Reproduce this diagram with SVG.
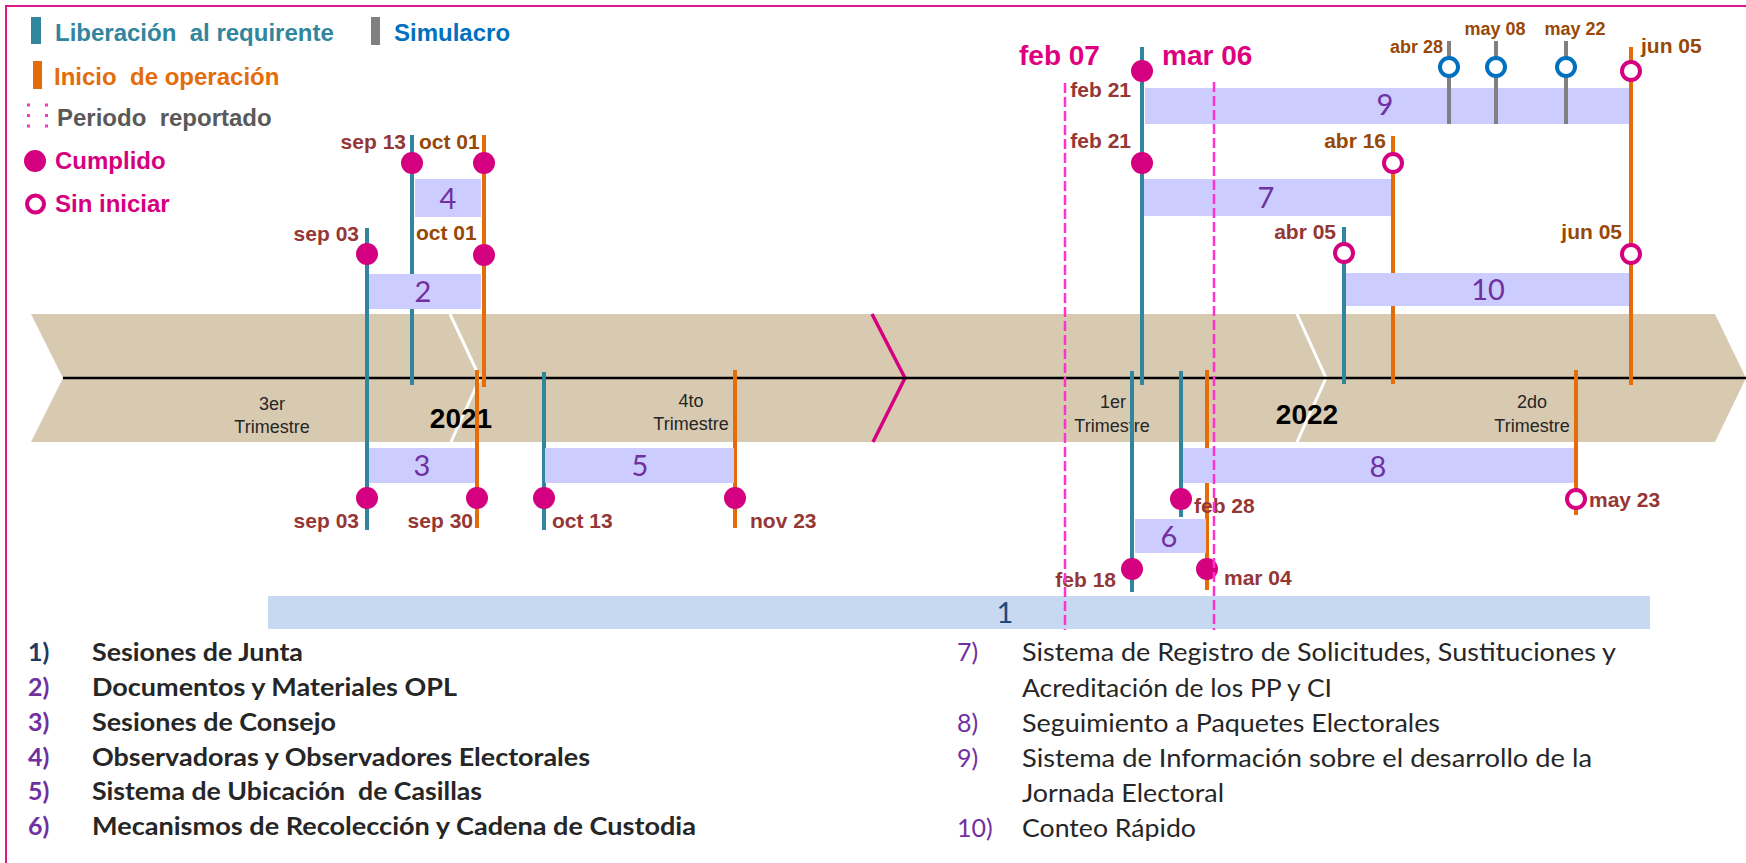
<svg xmlns="http://www.w3.org/2000/svg" width="1746" height="863" viewBox="0 0 1746 863">
<style>
.t{font-family:"Liberation Sans",Arial,sans-serif}
.b{font-weight:bold}
.lg{font-family:"Liberation Sans",Arial,sans-serif;font-weight:bold;font-size:24px;white-space:pre}
.q{font-family:"Liberation Sans",Arial,sans-serif;font-size:18px;fill:#262626;text-anchor:middle}
.yr{font-family:"Liberation Sans",Arial,sans-serif;font-size:28px;font-weight:bold;fill:#000;text-anchor:middle}
.dr{font-family:"Liberation Sans",Arial,sans-serif;font-weight:bold;font-size:21px;fill:#953735}
.do{font-family:"Liberation Sans",Arial,sans-serif;font-weight:bold;font-size:21px;fill:#984807}
.sm{font-size:18px}
.e{text-anchor:end}
.m{text-anchor:middle}
.bar{fill:#CCCCFF}
.num{font-family:Lato,"Liberation Sans",sans-serif;font-size:29px;fill:#7030A0;text-anchor:middle}
.teal{stroke:#31859C;stroke-width:4}
.org{stroke:#E46C0A;stroke-width:4}
.gry{stroke:#808080;stroke-width:4}
.cf{fill:#D5007F}
.co{fill:#fff;stroke:#D5007F;stroke-width:4}
.cb{fill:#fff;stroke:#0070C0;stroke-width:4}
.dash{stroke:#FF33CC;stroke-width:2.5;stroke-dasharray:10 4;fill:none}
.lb{font-family:Lato,"Liberation Sans",sans-serif;font-weight:bold;font-size:25px;fill:#262626;white-space:pre}
.lr{font-family:Lato,"Liberation Sans",sans-serif;font-size:25px;fill:#262626}
.np{fill:#7030A0}
.big{font-family:"Liberation Sans",Arial,sans-serif;font-weight:bold;font-size:28px;fill:#E0007F}
</style>
<rect x="0" y="0" width="1746" height="863" fill="#fff"/>
<rect id="frame" x="6" y="6" width="1780" height="900" fill="none" stroke="#E4168A" stroke-width="2"/>

<g id="legend">
  <rect x="31" y="17" width="10" height="27" fill="#31859C"/>
  <text class="lg" x="55" y="41" fill="#31859C">Liberación  al requirente</text>
  <rect x="371" y="17" width="9" height="28" fill="#808080"/>
  <text class="lg" x="394" y="41" fill="#0070C0">Simulacro</text>
  <rect x="33" y="61" width="9" height="28" fill="#E46C0A"/>
  <text class="lg" x="54" y="85" fill="#E46C0A">Inicio  de operación</text>
  <line x1="28.5" y1="103.5" x2="28.5" y2="128" stroke="#FF33CC" stroke-width="3" stroke-dasharray="3 7.5"/>
  <line x1="46.5" y1="103.5" x2="46.5" y2="128" stroke="#FF33CC" stroke-width="3" stroke-dasharray="3 7.5"/>
  <text class="lg" x="57" y="126" fill="#595959">Periodo  reportado</text>
  <circle cx="35" cy="161" r="11" class="cf"/>
  <text class="lg" x="55" y="169" fill="#D5007F">Cumplido</text>
  <circle cx="35.5" cy="204" r="8.5" class="co"/>
  <text class="lg" x="55" y="212" fill="#D5007F">Sin iniciar</text>
</g>

<g id="timeline-band">
  <polygon points="31,314 1715,314 1746,378 1715,442 31,442 63,378" fill="#D8CAB1"/>
  <polyline points="450,314 480,378 451,442" fill="none" stroke="#fff" stroke-width="3"/>
  <polyline points="1297,314 1326,378 1297,442" fill="none" stroke="#fff" stroke-width="3"/>
  <polyline points="872,314 905,378 873,442" fill="none" stroke="#D5007F" stroke-width="3.5"/>
  <line x1="63" y1="378" x2="1746" y2="378" stroke="#000" stroke-width="2.5"/>
  <text class="q" x="272" y="410">3er</text>
  <text class="q" x="272" y="433">Trimestre</text>
  <text class="yr" x="461" y="428">2021</text>
  <text class="q" x="691" y="407">4to</text>
  <text class="q" x="691" y="430">Trimestre</text>
  <text class="q" x="1113" y="408">1er</text>
  <text class="q" x="1112" y="432">Trimestre</text>
  <text class="yr" x="1307" y="424">2022</text>
  <text class="q" x="1532" y="408">2do</text>
  <text class="q" x="1532" y="432">Trimestre</text>
</g>

<g id="connectors">
  <line class="teal" x1="367" y1="228" x2="367" y2="530"/>
  <line class="teal" x1="412" y1="135" x2="412" y2="385"/>
  <line class="teal" x1="544" y1="372" x2="544" y2="530"/>
  <line class="teal" x1="1142" y1="47" x2="1142" y2="385"/>
  <line class="teal" x1="1344" y1="227" x2="1344" y2="384"/>
  <line class="teal" x1="1181" y1="371" x2="1181" y2="517"/>
  <line class="teal" x1="1132" y1="371" x2="1132" y2="592"/>
  <line class="org" x1="484" y1="135" x2="484" y2="387"/>
  <line class="org" x1="477" y1="370" x2="477" y2="528"/>
  <line class="org" x1="735" y1="370" x2="735" y2="528"/>
  <line class="org" x1="1631" y1="47" x2="1631" y2="385"/>
  <line class="org" x1="1393" y1="136" x2="1393" y2="384"/>
  <line class="org" x1="1207" y1="370" x2="1207" y2="590"/>
  <line class="org" x1="1576" y1="370" x2="1576" y2="515"/>
</g>

<g id="item-1">
  <rect class="bar" x="268" y="596" width="1382" height="33" fill="#C6D9F0" style="fill:#C6D9F0"/>
  <text class="num" x="1005" y="623" style="fill:#1F497D">1</text>
</g>

<g id="item-2">
  <rect class="bar" x="369" y="274" width="112" height="35"/>
  <text class="num" x="423" y="302">2</text>
  <circle class="cf" cx="367" cy="254" r="11"/>
  <circle class="cf" cx="484" cy="255" r="11"/>
  <text class="dr e" x="359" y="241">sep 03</text>
  <text class="do" x="416" y="240">oct 01</text>
</g>

<g id="item-3">
  <rect class="bar" x="369" y="448" width="106" height="35"/>
  <text class="num" x="422" y="476">3</text>
  <circle class="cf" cx="367" cy="498" r="11"/>
  <circle class="cf" cx="477" cy="498" r="11"/>
  <text class="dr e" x="359" y="528">sep 03</text>
  <text class="dr e" x="473" y="528">sep 30</text>
</g>

<g id="item-4">
  <rect class="bar" x="415" y="179" width="66" height="38"/>
  <text class="num" x="448" y="209">4</text>
  <circle class="cf" cx="412" cy="163" r="11"/>
  <circle class="cf" cx="484" cy="163" r="11"/>
  <text class="dr e" x="406" y="149">sep 13</text>
  <text class="do" x="419" y="149">oct 01</text>
</g>

<g id="item-5">
  <rect class="bar" x="545" y="448" width="189" height="35"/>
  <text class="num" x="640" y="476">5</text>
  <circle class="cf" cx="544" cy="498" r="11"/>
  <circle class="cf" cx="735" cy="498" r="11"/>
  <text class="dr" x="552" y="528">oct 13</text>
  <text class="dr" x="750" y="528">nov 23</text>
</g>

<g id="item-6">
  <rect class="bar" x="1135" y="519" width="71" height="34"/>
  <text class="num" x="1169" y="547">6</text>
  <circle class="cf" cx="1132" cy="569" r="11"/>
  <circle class="cf" cx="1207" cy="569" r="11"/>
  <text class="dr e" x="1116" y="587">feb 18</text>
  <text class="dr" x="1224" y="585">mar 04</text>
</g>

<g id="item-7">
  <rect class="bar" x="1144" y="179" width="247" height="37"/>
  <text class="num" x="1266" y="208">7</text>
  <circle class="cf" cx="1142" cy="163" r="11"/>
  <circle class="co" cx="1393" cy="163" r="9"/>
  <text class="dr e" x="1131" y="148">feb 21</text>
  <text class="do e" x="1386" y="148">abr 16</text>
</g>

<g id="item-8">
  <rect class="bar" x="1183" y="448" width="391" height="35"/>
  <text class="num" x="1378" y="477">8</text>
  <circle class="cf" cx="1181" cy="499" r="11"/>
  <circle class="co" cx="1576" cy="499" r="9"/>
  <text class="dr" x="1194" y="513">feb 28</text>
  <text class="dr" x="1589" y="507">may 23</text>
</g>

<g id="item-9">
  <rect class="bar" x="1145" y="88" width="484" height="36"/>
  <text class="num" x="1385" y="115">9</text>
  <line class="gry" x1="1449" y1="41" x2="1449" y2="124"/>
  <line class="gry" x1="1496" y1="41" x2="1496" y2="124"/>
  <line class="gry" x1="1566" y1="41" x2="1566" y2="124"/>
  <circle class="cb" cx="1449" cy="67" r="9"/>
  <circle class="cb" cx="1496" cy="67" r="9"/>
  <circle class="cb" cx="1566" cy="67" r="9"/>
  <circle class="cf" cx="1142" cy="71" r="11"/>
  <circle class="co" cx="1631" cy="71" r="9"/>
  <text class="dr e" x="1131" y="97">feb 21</text>
  <text class="do e sm" x="1443" y="53">abr 28</text>
  <text class="do m sm" x="1495" y="35">may 08</text>
  <text class="do m sm" x="1575" y="35">may 22</text>
  <text class="do" x="1641" y="53">jun 05</text>
</g>

<g id="item-10">
  <rect class="bar" x="1346" y="273" width="283" height="33"/>
  <text class="num" x="1488" y="300">10</text>
  <circle class="co" cx="1344" cy="253" r="9"/>
  <circle class="co" cx="1631" cy="254" r="9"/>
  <text class="dr e" x="1336" y="239">abr 05</text>
  <text class="do e" x="1622" y="239">jun 05</text>
</g>

<g id="reported-period">
  <line class="dash" x1="1065" y1="83" x2="1065" y2="630"/>
  <line class="dash" x1="1214" y1="82" x2="1214" y2="630"/>
  <text class="big" x="1019" y="65">feb 07</text>
  <text class="big" x="1162" y="65">mar 06</text>
</g>

<g id="list-left">
  <text class="lb" x="28" y="661" style="fill:#1F3864">1)</text>
  <text class="lb" x="92" y="661" textLength="211" lengthAdjust="spacingAndGlyphs">Sesiones de Junta</text>
  <text class="lb np" x="28" y="696" style="fill:#7030A0">2)</text>
  <text class="lb" x="92" y="696" textLength="365" lengthAdjust="spacingAndGlyphs">Documentos y Materiales OPL</text>
  <text class="lb" x="28" y="731" style="fill:#7030A0">3)</text>
  <text class="lb" x="92" y="731" textLength="244" lengthAdjust="spacingAndGlyphs">Sesiones de Consejo</text>
  <text class="lb" x="28" y="766" style="fill:#7030A0">4)</text>
  <text class="lb" x="92" y="766" textLength="498" lengthAdjust="spacingAndGlyphs">Observadoras y Observadores Electorales</text>
  <text class="lb" x="28" y="800" style="fill:#7030A0">5)</text>
  <text class="lb" x="92" y="800" textLength="390" lengthAdjust="spacingAndGlyphs">Sistema de Ubicación  de Casillas</text>
  <text class="lb" x="28" y="835" style="fill:#7030A0">6)</text>
  <text class="lb" x="92" y="835" textLength="604" lengthAdjust="spacingAndGlyphs">Mecanismos de Recolección y Cadena de Custodia</text>
</g>

<g id="list-right">
  <text class="lr" x="957" y="661" style="fill:#7030A0">7)</text>
  <text class="lr" x="1022" y="661" textLength="594" lengthAdjust="spacingAndGlyphs">Sistema de Registro de Solicitudes, Sustituciones y</text>
  <text class="lr" x="1022" y="697" textLength="310" lengthAdjust="spacingAndGlyphs">Acreditación de los PP y CI</text>
  <text class="lr" x="957" y="732" style="fill:#7030A0">8)</text>
  <text class="lr" x="1022" y="732" textLength="418" lengthAdjust="spacingAndGlyphs">Seguimiento a Paquetes Electorales</text>
  <text class="lr" x="957" y="767" style="fill:#7030A0">9)</text>
  <text class="lr" x="1022" y="767" textLength="570" lengthAdjust="spacingAndGlyphs">Sistema de Información sobre el desarrollo de la</text>
  <text class="lr" x="1022" y="802" textLength="202" lengthAdjust="spacingAndGlyphs">Jornada Electoral</text>
  <text class="lr" x="957" y="837" style="fill:#7030A0">10)</text>
  <text class="lr" x="1022" y="837" textLength="174" lengthAdjust="spacingAndGlyphs">Conteo Rápido</text>
</g>
</svg>
